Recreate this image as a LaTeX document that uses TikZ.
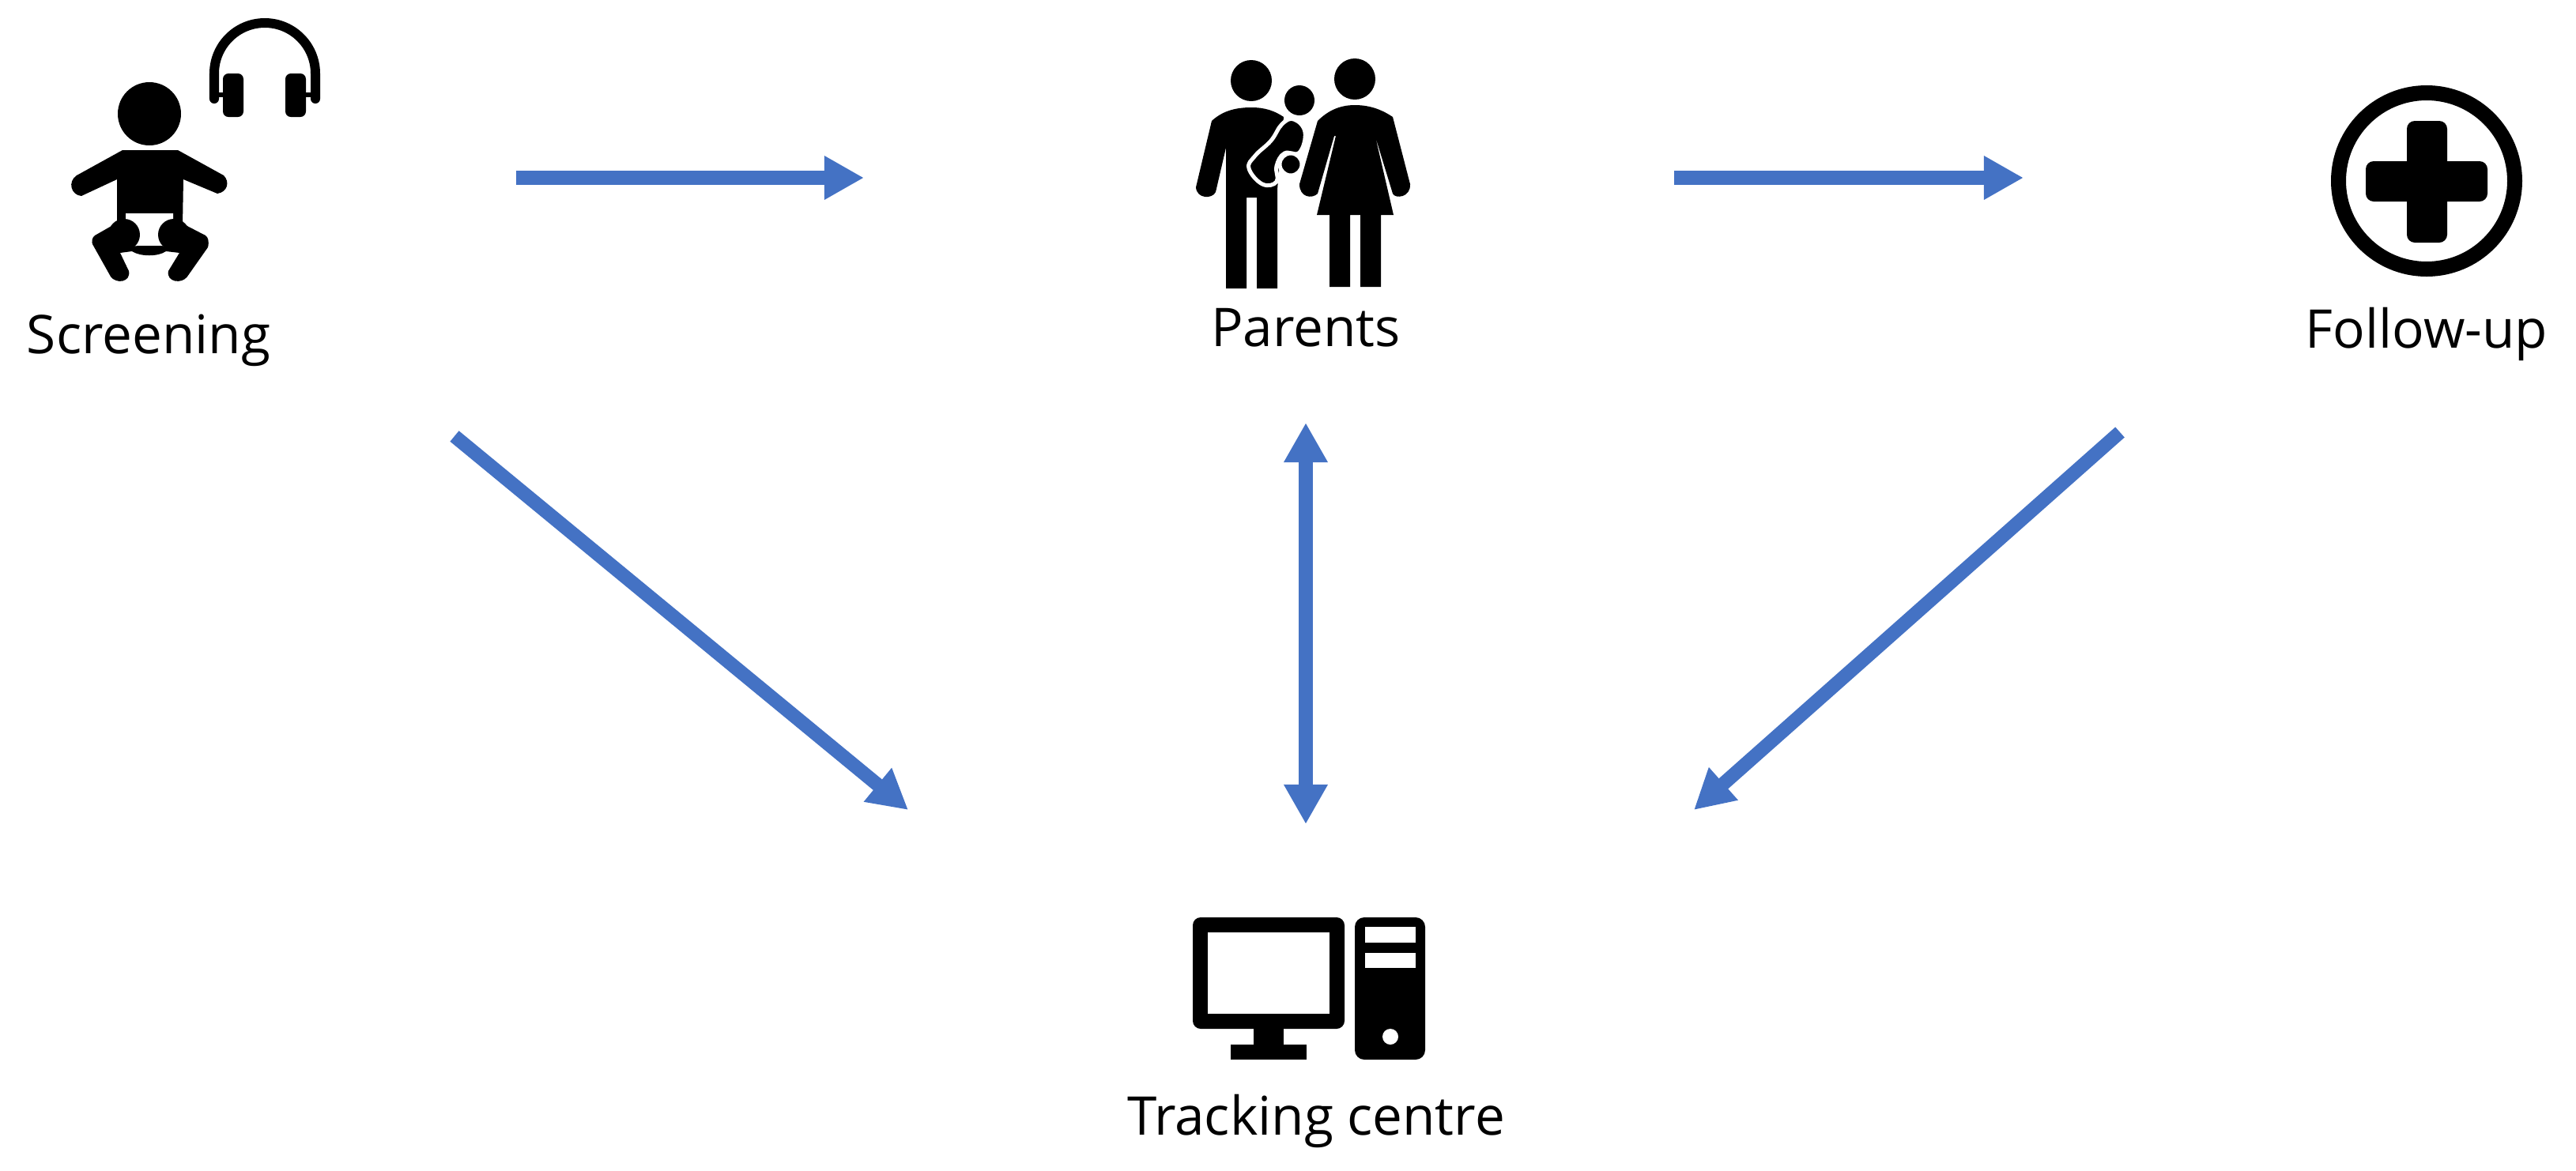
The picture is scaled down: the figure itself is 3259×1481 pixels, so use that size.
\documentclass[tikz,border=0pt]{standalone}
\usepackage{fontspec}
\setmainfont{Open Sans}
\usetikzlibrary{arrows.meta}
\definecolor{flowblue}{HTML}{4472C4}
\begin{document}
\begin{tikzpicture}
    [
      x=0.01cm, y=-0.01cm,
      flow/.style={draw=flowblue, line width=0.175cm, -{Triangle[length=0.5cm,width=0.52cm]}},
      flowboth/.style={draw=flowblue, line width=0.175cm, {Triangle[length=0.5cm,width=0.52cm]}-{Triangle[length=0.5cm,width=0.52cm]}},
      lab/.style={anchor=base, inner sep=0pt, font=\fontsize{19.2}{23}\selectfont},
      slot/.style={fill=white},
      edge/.style={fill=black, draw=white, line width=0.05cm},
    ]

    \useasboundingbox (0,0) rectangle (3259,1481);

    % labels
    \node [lab] (screening) at (188,447) {Screening};
    \node [lab] (parents) at (1652,438) {Parents};
    \node [lab] (followup) at (3070,440) {Follow-up};
    \node [lab] (tracking) at (1665,1436) {Tracking centre};

    % baby
    \fill (189,144) circle (40);
    \fill (155,190) -- (225,190) -- (283,222) .. controls (291,230) and (288,243) .. (275,245) -- (232,227) -- (231,285) -- (148,285) -- (148,227) -- (103,248) .. controls (90,247) and (85,230) .. (97,222) -- cycle;
    \fill [white] (159,270) -- (219,270) -- (219,290) -- (200,312) -- (178,312) -- (159,290) -- cycle;
    \fill (148,282) -- (120,298) .. controls (116,301) and (116,306) .. (117,309) -- (140,350) .. controls (147,360) and (166,357) .. (163,343) -- (152,320) -- (167,318) .. controls (178,325) and (200,325) .. (210,318) -- (227,320) -- (213,343) .. controls (210,357) and (230,360) .. (237,350) -- (263,313) .. controls (265,305) and (263,300) .. (260,298) -- (231,283) -- (223,312) -- (200,311) -- (178,311) -- (157,312) -- cycle;
    \fill (157,297) circle (20);
    \fill (220,297) circle (20);

    % headphones
    \draw [line width=0.12cm, line cap=round] (271,125) -- (271,93) arc (180:360:64) -- (399,125);
    \fill [rounded corners=0.07cm] (282,93) rectangle (308,148);
    \fill [rounded corners=0.07cm] (361,93) rectangle (387,148);
    \fill (271,117) rectangle (285,123);
    \fill (385,117) rectangle (399,123);

    % man
    \fill (1583,102) circle (26);
    \fill (1533,153) .. controls (1545,142) and (1560,136) .. (1583,136) .. controls (1600,136) and (1612,140) .. (1624,148) -- (1616,240) -- (1616,365) -- (1590,365) -- (1590,250) -- (1577,250) -- (1577,365) -- (1551,365) -- (1551,187) -- (1538,243) .. controls (1534,252) and (1514,252) .. (1513,237) -- cycle;

    % baby on his arm
    \fill (1644,127) circle (19);
    \draw [edge] plot [smooth cycle, tension=0.7] coordinates {(1637,151) (1651,167) (1644,193) (1625,194) (1615,210) (1615,230) (1597,233) (1580,213) (1588,197) (1608,178) (1622,157)};
    \draw [edge] (1633,208) circle (14);

    % woman
    \fill (1714,100) circle (26);
    \fill (1667,153) .. controls (1680,140) and (1695,133) .. (1714,133) .. controls (1735,133) and (1750,140) .. (1762,148) -- (1784,233) .. controls (1785,250) and (1765,252) .. (1762,245) -- (1740,173) -- (1763,272) -- (1747,272) -- (1747,363) -- (1721,363) -- (1721,272) -- (1708,272) -- (1708,363) -- (1682,363) -- (1682,272) -- (1666,272) -- (1690,172) -- (1688,172) -- (1667,245) .. controls (1660,252) and (1644,250) .. (1644,233) -- cycle;

    % follow-up
    \draw [line width=0.19cm] (3070,229) circle (111.5);
    \fill [rounded corners=0.1cm] (3045,153) rectangle (3096,307);
    \fill [rounded corners=0.1cm] (2993,204) rectangle (3147,255);

    % computer
    \fill [rounded corners=0.1cm] (1509,1161) rectangle (1701,1302);
    \fill [white] (1528,1180) rectangle (1682,1283);
    \fill (1586,1302) rectangle (1624,1322);
    \fill (1557,1322) rectangle (1653,1341);
    \fill [rounded corners=0.12cm] (1714,1161) rectangle (1803,1341);
    \fill [slot] (1727,1173) rectangle (1791,1193);
    \fill [slot] (1727,1206) rectangle (1791,1225);
    \fill [slot] (1759,1312) circle (10);

    % connectors
    \coordinate (screenout) at (653,225);
    \coordinate (parentsin) at (1093,225);
    \coordinate (parentsout) at (2118,225);
    \coordinate (followin) at (2560,225);
    \coordinate (parentsdown) at (1652,535);
    \coordinate (trackingup) at (1652,1043);
    \coordinate (screendown) at (575,552);
    \coordinate (trackingleft) at (1149,1025);
    \coordinate (followdown) at (2682,547);
    \coordinate (trackingright) at (2143,1025);

    \draw [flow] (screenout) -- (parentsin);
    \draw [flow] (parentsout) -- (followin);
    \draw [flow] (screendown) -- (trackingleft);
    \draw [flow] (followdown) -- (trackingright);
    \draw [flowboth] (parentsdown) -- (trackingup);
  \end{tikzpicture}
\end{document}
